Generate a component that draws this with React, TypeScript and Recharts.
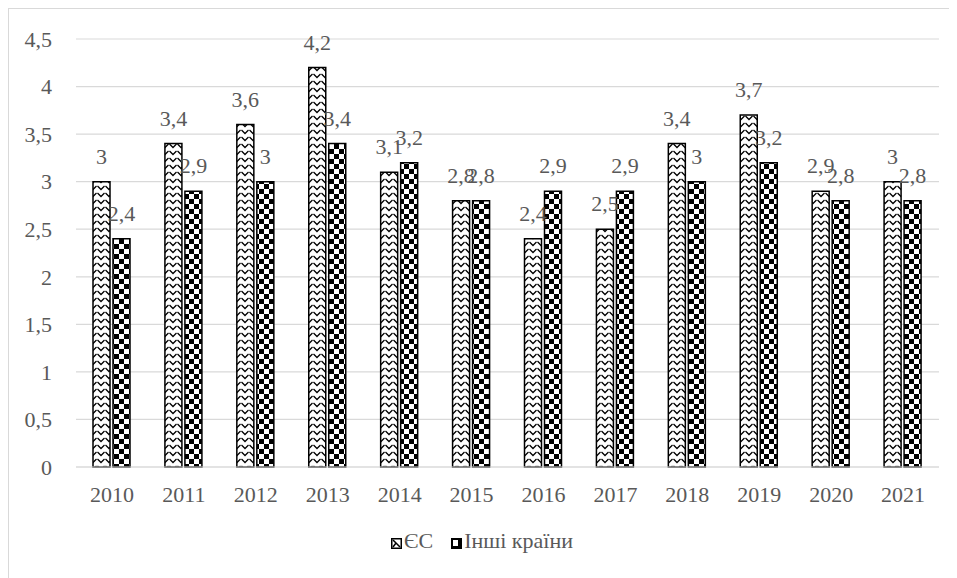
import React from "react";
import { BarChart, Bar, XAxis, YAxis, CartesianGrid, LabelList } from "recharts";

const years = ["2010", "2011", "2012", "2013", "2014", "2015", "2016", "2017", "2018", "2019", "2020", "2021"];
const euValues = [3, 3.4, 3.6, 4.2, 3.1, 2.8, 2.4, 2.5, 3.4, 3.7, 2.9, 3];
const otherValues = [2.4, 2.9, 3, 3.4, 3.2, 2.8, 2.9, 2.9, 3, 3.2, 2.8, 2.8];
const yTicks = [0, 0.5, 1, 1.5, 2, 2.5, 3, 3.5, 4, 4.5];

const data = years.map((year, i) => ({ year, eu: euValues[i], other: otherValues[i] }));

const fmt = (v: number) => String(v).replace(".", ",");
const font = "'Liberation Serif', 'Times New Roman', serif";
const grey = "#595959";
const fs = 22;

const Patterns = () => (
  <defs>
    <pattern id="zig" width="8" height="7" patternUnits="userSpaceOnUse">
      <rect width="8" height="7" fill="#fff" />
      <path d="M0.5 2 L4 5.5 L7.5 2" fill="none" stroke="#000" strokeWidth="1.3" />
    </pattern>
    <pattern id="checker" width="10" height="10" patternUnits="userSpaceOnUse">
      <rect width="10" height="10" fill="#fff" />
      <rect width="5" height="5" fill="#000" />
      <rect x="5" y="5" width="5" height="5" fill="#000" />
    </pattern>
  </defs>
);

const LegendIcon = ({ id }: { id: string }) => (
  <svg width="11" height="11" style={{ marginRight: 2, verticalAlign: "-1px" }}>
    {id === "zig" ? (
      <>
        <rect x="0.75" y="0.75" width="9.5" height="9.5" fill="#fff" stroke="#000" strokeWidth="1.5" />
        <path d="M2 2 L9 9 M2 9 L5 5" stroke="#000" strokeWidth="1.5" />
      </>
    ) : (
      <>
        <rect x="0" y="0" width="11" height="11" fill="#000" />
        <rect x="2" y="2" width="5" height="6" fill="#fff" />
      </>
    )}
  </svg>
);

const App = () => {
  return (
    <div
      style={{
        position: "relative",
        width: 949,
        height: 570,
        borderTop: "1px solid #d9d9d9",
        borderLeft: "1px solid #d9d9d9",
        fontFamily: font,
      }}
    >
      <BarChart
        width={948}
        height={569}
        data={data}
        margin={{ top: 30, right: 18, left: 0, bottom: 81 }}
        barSize={17}
        barGap={3}
      >
        <Patterns />
        <CartesianGrid vertical={false} stroke="#d9d9d9" strokeWidth={1.2} />
        <XAxis
          dataKey="year"
          axisLine={{ stroke: "#d9d9d9", strokeWidth: 1.2 }}
          tickLine={false}
          tickSize={0}
          tickMargin={19}
          tick={{ fill: grey, fontSize: fs, fontFamily: font }}
        />
        <YAxis
          domain={[0, 4.5]}
          ticks={yTicks}
          width={67}
          axisLine={false}
          tickLine={false}
          tickSize={0}
          tickMargin={24}
          tickFormatter={fmt}
          tick={{ fill: grey, fontSize: fs, fontFamily: font }}
        />
        <Bar dataKey="eu" name="ЄС" fill="url(#zig)" stroke="#000" strokeWidth={1.5} isAnimationActive={false}>
          <LabelList dataKey="eu" position="top" offset={18} formatter={(v: any) => fmt(v)} fill={grey} fontSize={fs} fontFamily={font} />
        </Bar>
        <Bar dataKey="other" name="Інші країни" fill="url(#checker)" stroke="#000" strokeWidth={1.5} isAnimationActive={false}>
          <LabelList dataKey="other" position="top" offset={18} formatter={(v: any) => fmt(v)} fill={grey} fontSize={fs} fontFamily={font} />
        </Bar>
      </BarChart>
      <div
        style={{
          position: "absolute",
          top: 520,
          left: 382,
          fontSize: fs,
          color: grey,
          lineHeight: "24px",
          whiteSpace: "nowrap",
        }}
      >
        <LegendIcon id="zig" />
        <span style={{ marginRight: 18 }}>ЄС</span>
        <LegendIcon id="checker" />
        <span>Інші країни</span>
      </div>
    </div>
  );
};

export default App;
